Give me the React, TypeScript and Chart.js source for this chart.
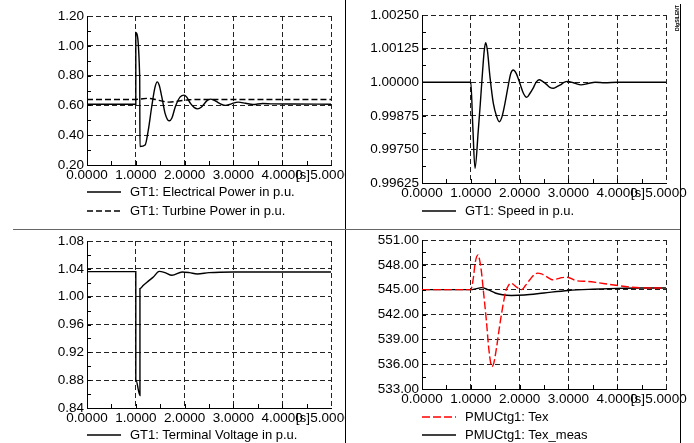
import React, { useEffect, useRef } from 'react';
import { Chart, registerables } from 'chart.js';

Chart.register(...registerables);

const FONT = '"Liberation Sans", Arial, Helvetica, sans-serif';
const TICK_SIZE = 13.5;
const LEGEND_SIZE = 13;
const X_AXIS_H = 20;

// Shared simulation time axis [s]
const timeTicks = [0, 1, 2, 3, 4, 5];

// GT1: Electrical Power in p.u.
const elecTime = [0, 1.0, 1.0, 1.08, 1.085, 1.19, 1.256, 1.326, 1.395, 1.44, 1.48, 1.533, 1.6, 1.65, 1.69, 1.74, 1.81, 1.91, 1.99, 2.04, 2.12, 2.2, 2.27, 2.34, 2.4, 2.46, 2.53, 2.6, 2.68, 2.76, 2.84, 2.92, 2.97, 3.1, 3.25, 3.4, 3.6, 3.8, 4.2, 5.0];
const elecPower = [0.608, 0.608, 1.09, 0.79, 0.324, 0.334, 0.434, 0.591, 0.724, 0.758, 0.735, 0.657, 0.546, 0.505, 0.497, 0.515, 0.591, 0.657, 0.669, 0.657, 0.613, 0.585, 0.577, 0.588, 0.61, 0.632, 0.642, 0.636, 0.62, 0.606, 0.6, 0.606, 0.612, 0.622, 0.614, 0.606, 0.613, 0.61, 0.609, 0.608];

// GT1: Turbine Power in p.u.
const turbTime = [0, 1.0, 1.1, 1.25, 1.4, 1.55, 1.68, 1.8, 1.95, 2.1, 2.3, 5.0];
const turbPower = [0.64, 0.64, 0.643, 0.647, 0.64, 0.628, 0.622, 0.625, 0.633, 0.638, 0.64, 0.64];

// GT1: Speed in p.u.
const speedTime = [0, 1.0, 1.04, 1.086, 1.154, 1.195, 1.243, 1.277, 1.305, 1.339, 1.393, 1.462, 1.53, 1.584, 1.64, 1.7, 1.77, 1.82, 1.87, 1.93, 2.007, 2.08, 2.145, 2.21, 2.272, 2.34, 2.4, 2.47, 2.545, 2.62, 2.69, 2.76, 2.835, 2.91, 2.98, 3.12, 3.26, 3.4, 3.55, 3.75, 4.0, 5.0];
const speed = [1.0, 1.0, 0.9984, 0.9968, 0.99822, 0.99921, 1.00045, 1.0012, 1.00147, 1.0012, 1.0002, 0.99921, 0.99872, 0.99853, 0.99872, 0.99921, 0.9999, 1.00033, 1.000454, 1.00033, 0.99995, 0.99958, 0.999438, 0.99958, 0.99976, 1.0, 1.00009, 1.00003, 0.99993, 0.99981, 0.999773, 0.99983, 0.9999, 0.99999, 1.00003, 0.99997, 0.9999, 0.99995, 1.0, 0.99998, 1.0, 1.0];

// GT1: Terminal Voltage in p.u.
const voltTime = [0, 1.0, 1.0, 1.085, 1.085, 1.15, 1.25, 1.36, 1.48, 1.6, 1.74, 1.95, 2.1, 2.26, 2.5, 3.0, 5.0];
const voltage = [1.036, 1.036, 0.881, 0.858, 1.0116, 1.016, 1.022, 1.0283, 1.0364, 1.0345, 1.0307, 1.0355, 1.0345, 1.0326, 1.0345, 1.0355, 1.0355];

// PMUCtg1: Tex
const texTime = [0, 1.0, 1.047, 1.094, 1.15, 1.18, 1.217, 1.252, 1.32, 1.368, 1.409, 1.43, 1.47, 1.525, 1.594, 1.662, 1.717, 1.77, 1.82, 1.88, 1.94, 2.04, 2.12, 2.21, 2.3, 2.37, 2.45, 2.52, 2.6, 2.67, 2.77, 2.86, 2.98, 3.15, 3.39, 3.6, 3.89, 4.3, 4.7, 5.0];
const tex = [545.0, 545.0, 546.2, 548.4, 549.2, 548.6, 547.2, 545.2, 541.2, 537.9, 536.1, 535.7, 536.1, 537.9, 540.75, 543.2, 544.8, 545.5, 545.8, 545.6, 545.3, 545.0, 545.5, 546.2, 546.8, 547.0, 546.9, 546.7, 546.4, 546.2, 546.3, 546.45, 546.5, 546.1, 546.0, 545.85, 545.6, 545.3, 545.2, 545.2];

// PMUCtg1: Tex_meas
const texMeasTime = [0, 1.0, 1.1, 1.22, 1.35, 1.5, 1.65, 1.83, 2.1, 2.5, 3.0, 3.5, 4.0, 4.5, 5.0];
const texMeas = [545.0, 545.0, 545.1, 545.25, 545.0, 544.6, 544.38, 544.3, 544.35, 544.6, 544.9, 545.05, 545.15, 545.2, 545.2];

// Value axis ticks of each plot
const powerTicks = [0.2, 0.4, 0.6, 0.8, 1.0, 1.2];
const speedTicks = [0.99625, 0.9975, 0.99875, 1.0, 1.00125, 1.0025];
const voltTicks = [0.84, 0.88, 0.92, 0.96, 1.0, 1.04, 1.08];
const texTicks = [533, 536, 539, 542, 545, 548, 551];

type Box = { left: number; top: number; width: number; height: number };
type Area = { left: number; top: number; right: number; bottom: number };
type Series = { label: string; time: number[]; values: number[]; color: string; dash: number[] };

type PlotProps = {
  frame: Box;
  area: Area;
  yTicks: number[];
  yDigits: number;
  series: Series[];
  legendRows: number[];
};

function Plot({ frame, area, yTicks, yDigits, series, legendRows }: PlotProps) {
  const ref = useRef<HTMLCanvasElement>(null);

  useEffect(() => {
    const canvas = ref.current;
    if (!canvas) return;
    const w = frame.width;
    const h = frame.height;
    const a = {
      left: area.left - frame.left,
      top: area.top - frame.top,
      right: area.right - frame.left,
      bottom: area.bottom - frame.top,
    };
    const mid = (arr: number[]) => arr.slice(1).map((v, i) => (v + arr[i]) / 2);
    const minorX = [...mid(timeTicks), ...timeTicks.slice(1, -1)];
    const minorY = [...mid(yTicks), ...yTicks.slice(1, -1)];

    // short inward tick marks on both axes plus the time unit label
    const axisDecor = {
      id: 'axisDecor',
      afterDatasetsDraw(chart: any) {
        const { ctx, chartArea: ca, scales } = chart;
        ctx.save();
        ctx.strokeStyle = '#000';
        ctx.lineWidth = 1;
        ctx.setLineDash([]);
        ctx.beginPath();
        for (const t of minorX) {
          const px = Math.round(scales.x.getPixelForValue(t)) + 0.5;
          ctx.moveTo(px, ca.bottom);
          ctx.lineTo(px, ca.bottom - 4);
        }
        for (const v of minorY) {
          const py = Math.round(scales.y.getPixelForValue(v)) + 0.5;
          ctx.moveTo(ca.left, py);
          ctx.lineTo(ca.left + 4, py);
        }
        ctx.stroke();
        ctx.font = `${TICK_SIZE}px ${FONT}`;
        ctx.fillStyle = '#000';
        ctx.textAlign = 'right';
        ctx.textBaseline = 'middle';
        ctx.fillText('[s]', ca.right - 21, ca.bottom + 10);
        ctx.restore();
      },
    };

    const chart = new Chart(canvas, {
      type: 'line',
      data: {
        datasets: series.map((s) => ({
          label: s.label,
          data: s.time.map((t, i) => ({ x: t, y: s.values[i] })),
          borderColor: s.color,
          borderWidth: 1.4,
          borderDash: s.dash,
          pointRadius: 0,
          fill: false,
          cubicInterpolationMode: 'monotone' as const,
        })),
      },
      options: {
        animation: false,
        responsive: false,
        maintainAspectRatio: false,
        devicePixelRatio: 1,
        events: [],
        layout: {
          padding: { left: 0, top: a.top, right: w - a.right, bottom: h - a.bottom - X_AXIS_H },
        },
        plugins: {
          legend: { display: false },
          tooltip: { enabled: false },
        },
        scales: {
          x: {
            type: 'linear',
            min: timeTicks[0],
            max: timeTicks[timeTicks.length - 1],
            afterBuildTicks: (s: any) => {
              s.ticks = timeTicks.map((v) => ({ value: v }));
            },
            afterFit: (s: any) => {
              s.height = X_AXIS_H;
              s.paddingLeft = 0;
              s.paddingRight = 0;
            },
            grid: { color: '#222', lineWidth: 1, drawTicks: false },
            border: { display: true, color: '#000', width: 1, dash: [5, 3] },
            ticks: {
              padding: 2,
              maxRotation: 0,
              autoSkip: false,
              color: '#000',
              font: { family: FONT, size: TICK_SIZE },
              callback: (v: any) => Number(v).toFixed(4),
            },
          },
          y: {
            type: 'linear',
            min: yTicks[0],
            max: yTicks[yTicks.length - 1],
            afterBuildTicks: (s: any) => {
              s.ticks = yTicks.map((v) => ({ value: v }));
            },
            afterFit: (s: any) => {
              s.width = a.left;
              s.paddingTop = 0;
              s.paddingBottom = 0;
            },
            grid: { color: '#222', lineWidth: 1, drawTicks: false },
            border: { display: true, color: '#000', width: 1, dash: [5, 3] },
            ticks: {
              padding: 3,
              autoSkip: false,
              color: '#000',
              font: { family: FONT, size: TICK_SIZE },
              callback: (v: any) => Number(v).toFixed(yDigits),
            },
          },
        },
      },
      plugins: [axisDecor],
    } as any);

    return () => chart.destroy();
  }, []);

  return (
    <>
      <canvas
        ref={ref}
        width={frame.width}
        height={frame.height}
        style={{
          position: 'absolute',
          left: frame.left,
          top: frame.top,
          width: frame.width,
          height: frame.height,
          display: 'block',
        }}
      />
      {series.map((s, i) => (
        <div
          key={s.label}
          style={{
            position: 'absolute',
            left: area.left,
            top: legendRows[i] - 8,
            height: 16,
            display: 'flex',
            alignItems: 'center',
            whiteSpace: 'nowrap',
            fontFamily: FONT,
            fontSize: LEGEND_SIZE,
            lineHeight: '16px',
            color: '#000',
          }}
        >
          <svg width={34} height={6} style={{ display: 'block' }}>
            <line
              x1={0}
              y1={3}
              x2={34}
              y2={3}
              stroke={s.color}
              strokeWidth={1.3}
              strokeDasharray={s.dash.length ? s.dash.join(' ') : undefined}
            />
          </svg>
          <span style={{ marginLeft: 9 }}>{s.label}</span>
        </div>
      ))}
    </>
  );
}

export default function App() {
  return (
    <div
      style={{
        position: 'absolute',
        left: 0,
        top: 0,
        width: 694,
        height: 443,
        background: '#fff',
        overflow: 'hidden',
      }}
    >
      <Plot
        frame={{ left: 0, top: 0, width: 345, height: 229 }}
        area={{ left: 87, top: 16, right: 331, bottom: 165 }}
        yTicks={powerTicks}
        yDigits={2}
        legendRows={[192, 211]}
        series={[
          { label: 'GT1: Electrical Power in p.u.', time: elecTime, values: elecPower, color: '#000', dash: [] },
          { label: 'GT1: Turbine Power in p.u.', time: turbTime, values: turbPower, color: '#000', dash: [6, 3] },
        ]}
      />
      <Plot
        frame={{ left: 346, top: 0, width: 348, height: 229 }}
        area={{ left: 422, top: 15, right: 666, bottom: 183 }}
        yTicks={speedTicks}
        yDigits={5}
        legendRows={[211]}
        series={[{ label: 'GT1: Speed in p.u.', time: speedTime, values: speed, color: '#000', dash: [] }]}
      />
      <Plot
        frame={{ left: 0, top: 230, width: 345, height: 213 }}
        area={{ left: 87, top: 241, right: 331, bottom: 408 }}
        yTicks={voltTicks}
        yDigits={2}
        legendRows={[435]}
        series={[{ label: 'GT1: Terminal Voltage in p.u.', time: voltTime, values: voltage, color: '#000', dash: [] }]}
      />
      <Plot
        frame={{ left: 346, top: 230, width: 348, height: 213 }}
        area={{ left: 422, top: 240, right: 666, bottom: 389 }}
        yTicks={texTicks}
        yDigits={2}
        legendRows={[417, 435]}
        series={[
          { label: 'PMUCtg1: Tex', time: texTime, values: tex, color: '#ff0000', dash: [8, 3] },
          { label: 'PMUCtg1: Tex_meas', time: texMeasTime, values: texMeas, color: '#000', dash: [] },
        ]}
      />

      {/* panel separators */}
      <div style={{ position: 'absolute', left: 345, top: 0, width: 1, height: 443, background: '#000' }} />
      <div style={{ position: 'absolute', left: 13, top: 229, width: 667, height: 1, background: '#666' }} />
      <div style={{ position: 'absolute', left: 680, top: 4, width: 1, height: 439, background: '#000' }} />
      <div
        style={{
          position: 'absolute',
          left: 664,
          top: 15,
          width: 26,
          height: 6,
          fontFamily: FONT,
          fontSize: 5,
          fontWeight: 'bold',
          lineHeight: '6px',
          textAlign: 'center',
          transform: 'rotate(-90deg)',
          color: '#000',
          whiteSpace: 'nowrap',
        }}
      >
        DIgSILENT
      </div>
    </div>
  );
}
